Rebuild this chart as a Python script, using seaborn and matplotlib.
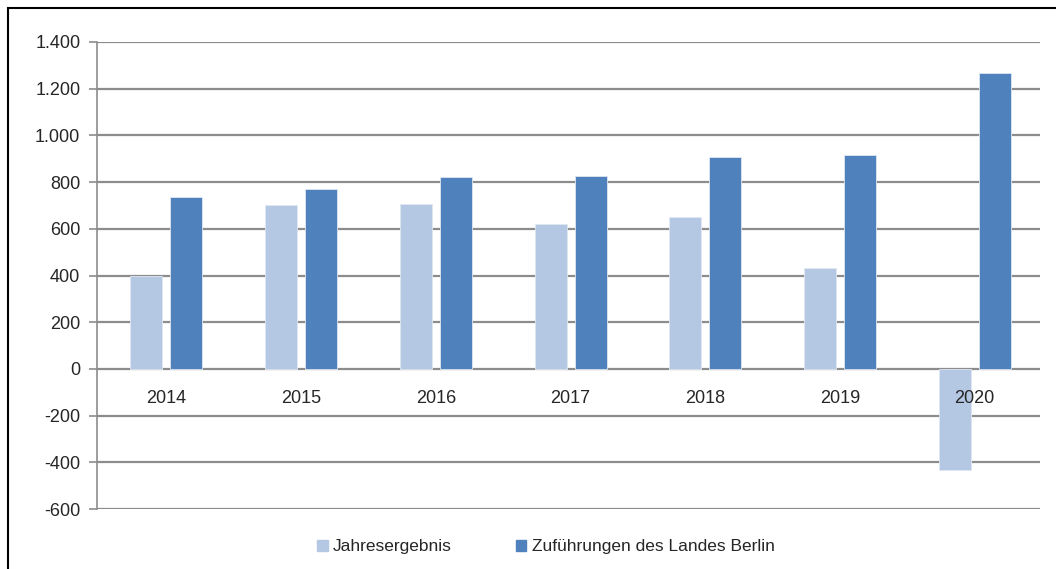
import pandas as pd
import matplotlib.pyplot as plt
import seaborn as sns
from matplotlib.patches import Rectangle

# Werte in Mio. Euro
jahre = ["2014", "2015", "2016", "2017", "2018", "2019", "2020"]
jahresergebnis = [398, 704, 706, 620, 651, 434, -431]
zufuehrungen = [735, 770, 820, 828, 909, 917, 1268]
serien = ["Jahresergebnis", "Zuführungen des Landes Berlin"]
y_ticks = [-600, -400, -200, 0, 200, 400, 600, 800, 1000, 1200, 1400]

df = pd.DataFrame({
    "Jahr": jahre * 2,
    "Wert": jahresergebnis + zufuehrungen,
    "Serie": [serien[0]] * len(jahre) + [serien[1]] * len(jahre),
})

sns.set_style("white")
plt.rcParams["font.family"] = ["Liberation Sans", "DejaVu Sans"]

farben = {serien[0]: "#B4C8E4", serien[1]: "#4F81BD"}

fig = plt.figure(figsize=(10.56, 5.69), dpi=100)
ax = fig.add_axes([97 / 1056, 1 - 509 / 569, (1040 - 97) / 1056, (509 - 42) / 569])

sns.barplot(data=df, x="Jahr", y="Wert", hue="Serie", hue_order=serien,
            palette=farben, saturation=1, width=0.594, gap=0.2, ax=ax,
            zorder=2, edgecolor="#dfe7f2", linewidth=0.6)

ax.set_ylim(-600, 1400)
ax.set_xlim(-0.515, len(jahre) - 0.515)
ax.set_yticks(y_ticks)
ax.set_yticklabels([f"{v:,}".replace(",", ".") for v in y_ticks])
ax.set_xlabel("")
ax.set_ylabel("")

# Gitterlinien hinter den Balken
ax.grid(False)
ax.set_axisbelow(False)
for v in y_ticks:
    ax.axhline(v, color="#8c8c8c", lw=1.6, zorder=0.5)

for s in ["top", "right"]:
    ax.spines[s].set_visible(False)
ax.spines["left"].set_color("#8c8c8c")
ax.spines["left"].set_linewidth(1.2)
ax.spines["bottom"].set_position(("data", 0))
ax.spines["bottom"].set_visible(False)

ax.tick_params(axis="y", length=6, width=1.2, color="#8c8c8c",
               labelsize=13, pad=6, left=True)
ax.tick_params(axis="x", length=0, labelsize=13, pad=15)

ax.legend_.remove()
handles = [Rectangle((0, 0), 1, 1, color=farben[s]) for s in serien]
fig.legend(handles, serien, loc="center", bbox_to_anchor=(0.517, 1 - 547 / 569),
           ncol=2, frameon=False, fontsize=12.5, handlelength=0.6,
           handleheight=0.6, handletextpad=0.3, columnspacing=3.7)

# Rahmen oben/links wie im Ausschnitt
fig.add_artist(Rectangle((8 / 1056, -0.1), 1.2, 1.1 - 8 / 569,
                         transform=fig.transFigure, fill=False,
                         edgecolor="black", lw=1.5, clip_on=False))

fig.savefig("out.png", dpi=100)
